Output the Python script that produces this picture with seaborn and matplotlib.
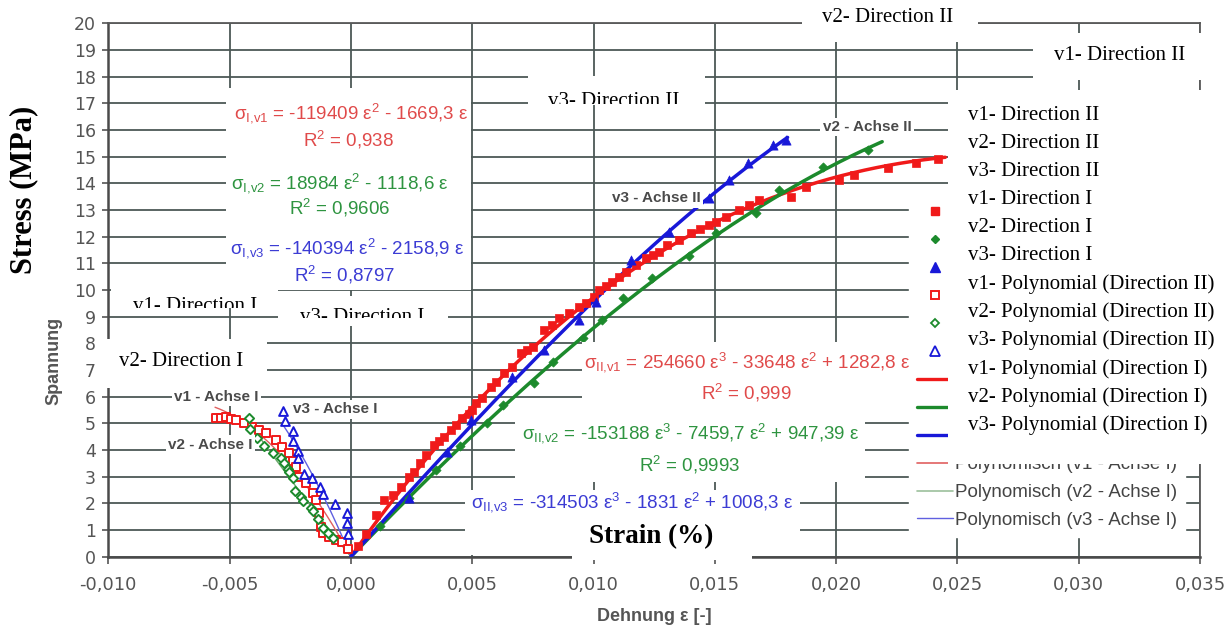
import numpy as np
import pandas as pd
import matplotlib
matplotlib.use("Agg")
import matplotlib.pyplot as plt
import seaborn as sns
from matplotlib.lines import Line2D
from matplotlib.patches import Rectangle
from matplotlib.ticker import FuncFormatter
from matplotlib.transforms import Bbox, TransformedBbox

# ---------------------------------------------------------------- data
# Direction II (Achse II) - measured points, positive strain
v1_II_eps = [0.00030, 0.00062, 0.00103, 0.00137, 0.00172, 0.00206, 0.00240, 0.00261, 0.00285,
             0.00309, 0.00343, 0.00365, 0.00385, 0.00412, 0.00433, 0.00460, 0.00485, 0.00501,
             0.00515, 0.00540, 0.00577, 0.00600, 0.00632, 0.00666, 0.00701, 0.00725, 0.00749,
             0.00797, 0.00830, 0.00859, 0.00900, 0.00941, 0.00969, 0.01003, 0.01024, 0.01050,
             0.01078, 0.01105, 0.01134, 0.01175, 0.01216, 0.01245, 0.01271, 0.01305, 0.01353,
             0.01401, 0.01440, 0.01477, 0.01505, 0.01546, 0.01600, 0.01642, 0.01683, 0.01814,
             0.01876, 0.02013, 0.02075, 0.02212, 0.02329, 0.02418]
v1_II_sig = [0.40, 0.85, 1.56, 2.13, 2.31, 2.62, 3.00, 3.19, 3.50,
             3.81, 4.19, 4.35, 4.50, 4.75, 4.94, 5.19, 5.35, 5.50,
             5.75, 5.95, 6.37, 6.55, 6.88, 7.12, 7.63, 7.75, 7.88,
             8.50, 8.70, 8.94, 9.13, 9.37, 9.50, 9.75, 10.00, 10.15,
             10.31, 10.50, 10.69, 10.94, 11.19, 11.30, 11.44, 11.69, 11.88,
             12.13, 12.30, 12.44, 12.56, 12.75, 13.00, 13.19, 13.37, 13.50,
             13.87, 14.12, 14.31, 14.56, 14.75, 14.90]

v2_II_eps = [0.00120, 0.00240, 0.00350, 0.00450, 0.00563, 0.00625, 0.00756, 0.00831, 0.00955,
             0.01037, 0.01120, 0.01243, 0.01394, 0.01505, 0.01670, 0.01766, 0.01944, 0.02130]
v2_II_sig = [1.15, 2.20, 3.25, 4.15, 5.00, 5.70, 6.50, 7.31, 8.19,
             8.88, 9.69, 10.44, 11.28, 12.13, 12.87, 13.75, 14.62, 15.25]

v3_II_eps = [0.00240, 0.00398, 0.00495, 0.00666, 0.00797, 0.00941, 0.01010, 0.01154, 0.01312,
             0.01477, 0.01560, 0.01635, 0.01738, 0.01793]
v3_II_sig = [2.19, 3.94, 5.13, 6.75, 7.75, 8.88, 9.56, 11.12, 12.19,
             13.44, 14.12, 14.75, 15.44, 15.62]

# Direction I (Achse I) - measured points, negative strain
v1_I_eps = [-0.00556, -0.00535, -0.00515, -0.00495, -0.00474, -0.00440, -0.00406, -0.00378,
            -0.00350, -0.00309, -0.00282, -0.00254, -0.00240, -0.00227, -0.00213, -0.00185,
            -0.00158, -0.00144, -0.00131, -0.00124, -0.00117, -0.00089, -0.00062, -0.00035,
            -0.00010]
v1_I_sig = [5.19, 5.20, 5.25, 5.18, 5.13, 5.00, 4.87, 4.75,
            4.63, 4.38, 4.12, 3.88, 3.60, 3.37, 3.00, 2.75,
            2.38, 2.13, 1.63, 1.12, 0.88, 0.75, 0.63, 0.56,
            0.30]

v2_I_eps = [-0.00422, -0.00415, -0.00385, -0.00360, -0.00320, -0.00290, -0.00275, -0.00260,
            -0.00254, -0.00240, -0.00230, -0.00206, -0.00196, -0.00165, -0.00155, -0.00135,
            -0.00114, -0.00095, -0.00073]
v2_I_sig = [5.20, 4.80, 4.45, 4.15, 3.90, 3.70, 3.50, 3.30,
            3.19, 2.96, 2.47, 2.25, 2.10, 1.81, 1.72, 1.40,
            1.09, 0.90, 0.70]

v3_I_eps = [-0.00280, -0.00270, -0.00240, -0.00240, -0.00220, -0.00220, -0.00195, -0.00160,
            -0.00127, -0.00113, -0.00064, -0.00016, -0.00016, -0.00010]
v3_I_sig = [5.47, 5.10, 4.70, 4.35, 3.97, 3.70, 3.10, 2.96,
            2.60, 2.36, 1.98, 1.65, 1.27, 0.85]

# polynomial trendlines: coefficients of eps^3, eps^2, eps (no intercept)
coef_I = {"v1": (0, -119409, -1669.3), "v2": (0, 18984, -1118.6), "v3": (0, -140394, -2158.9)}
coef_II = {"v1": (254660, -33648, 1282.8), "v2": (-153188, -7459.7, 947.39), "v3": (-314503, -1831, 1008.3)}
r2_I = {"v1": "0,938", "v2": "0,9606", "v3": "0,8797"}
r2_II = {"v1": "0,999", "v2": "0,9993"}
# strain range covered by each trendline
span_I = {"v1": (-0.0056, 0.0), "v2": (-0.0043, 0.0), "v3": (-0.0028, 0.0)}
span_II = {"v1": (0.0, 0.0245), "v2": (0.0, 0.0219), "v3": (0.0, 0.0180)}

x_ticks = [-0.010, -0.005, 0.000, 0.005, 0.010, 0.015, 0.020, 0.025, 0.030, 0.035]
y_ticks = list(range(0, 21))

legend_texts = ["v1- Direction II", "v2- Direction II", "v3- Direction II",
                "v1- Direction I", "v2- Direction I", "v3- Direction I",
                "v1- Polynomial (Direction II)", "v2- Polynomial (Direction II)",
                "v3- Polynomial (Direction II)", "v1- Polynomial (Direction I)",
                "v2- Polynomial (Direction I)", "v3- Polynomial (Direction I)"]
excel_legend_texts = ["Polynomisch (v1 - Achse I)", "Polynomisch (v2 - Achse I)",
                      "Polynomisch (v3 - Achse I)"]

# ---------------------------------------------------------------- style
sns.set_theme(style="white")
plt.rcParams["font.family"] = ["Liberation Sans", "DejaVu Sans"]
plt.rcParams["mathtext.fontset"] = "custom"
plt.rcParams["mathtext.rm"] = "Liberation Sans"
plt.rcParams["mathtext.it"] = "Liberation Sans:italic"

RED, GREEN, BLUE = "#f01a1a", "#1c8a2c", "#1818d8"
RED_T, GREEN_T, BLUE_T = "#e06060", "#6aa86a", "#6060e0"
EQ_RED, EQ_GREEN, EQ_BLUE = "#e04a4a", "#2e9440", "#3c3cd4"
GRID = "#4c5856"
TICK = "#555555"
SERIF = ["Liberation Serif", "DejaVu Serif"]

W, H = 1232, 631
fig = plt.figure(figsize=(W / 100, H / 100), dpi=100)


def fx(x):
    return x / W


def fy(y):
    return 1 - y / H


ax = fig.add_axes([fx(108.3), fy(556.7), (1200 - 108.3) / W, (556.7 - 23.3) / H])


def poly(coefs, e):
    c3, c2, c1 = coefs
    return c3 * e ** 3 + c2 * e ** 2 + c1 * e


def curve(coefs, span):
    e = np.linspace(span[0], span[1], 200)
    return pd.DataFrame({"eps": e, "sig": poly(coefs, e)})


# trendlines
for key, col in zip(["v1", "v2", "v3"], [RED_T, GREEN_T, BLUE_T]):
    d = curve(coef_I[key], span_I[key])
    sns.lineplot(data=d, x="eps", y="sig", color=col, linewidth=1.0, estimator=None,
                 sort=False, ax=ax, zorder=3)
for key, col in zip(["v1", "v2", "v3"], [RED, GREEN, BLUE]):
    d = curve(coef_II[key], span_II[key])
    sns.lineplot(data=d, x="eps", y="sig", color=col, linewidth=2.5, estimator=None,
                 sort=False, ax=ax, zorder=3)

# measured points
open_sets = [(v1_I_eps, v1_I_sig, "s", RED, 40), (v2_I_eps, v2_I_sig, "D", GREEN, 22),
             (v3_I_eps, v3_I_sig, "^", BLUE, 40)]
for e, s, m, col, size in open_sets:
    sns.scatterplot(x=e, y=s, marker=m, s=size, facecolor="white", edgecolor=col,
                    linewidth=1.4, ax=ax, zorder=4)
filled_sets = [(v1_II_eps, v1_II_sig, "s", RED, 36), (v2_II_eps, v2_II_sig, "D", GREEN, 22),
               (v3_II_eps, v3_II_sig, "^", BLUE, 44)]
for e, s, m, col, size in filled_sets:
    sns.scatterplot(x=e, y=s, marker=m, s=size, color=col, edgecolor=col,
                    linewidth=0.5, ax=ax, zorder=4)

# axes frame, grid and ticks
ax.set_xlim(x_ticks[0], x_ticks[-1])
ax.set_ylim(y_ticks[0], y_ticks[-1])
ax.set_xticks(x_ticks)
ax.set_yticks(y_ticks)
ax.xaxis.set_major_formatter(FuncFormatter(
    lambda v, p: f"{v:.3f}".replace(".", ",").replace("-0,000", "0,000")))
ax.yaxis.set_major_formatter(FuncFormatter(lambda v, p: f"{v:.0f}"))
ax.set_axisbelow(True)
ax.grid(True, color=GRID, linewidth=1.3)
for side in ["left", "bottom"]:
    ax.spines[side].set_color("#4a4a4a")
    ax.spines[side].set_linewidth(1.8)
for side in ["top", "right"]:
    ax.spines[side].set_color("#5a5a5a")
    ax.spines[side].set_linewidth(1.3)
ax.tick_params(axis="x", direction="out", length=5, width=1.2, color=TICK, pad=9,
               labelsize=13, labelcolor=TICK, bottom=True, labelfontfamily="DejaVu Sans")
ax.tick_params(axis="y", direction="out", length=4, width=1.2, color=TICK, pad=5,
               labelsize=12.5, labelcolor=TICK, left=True, labelfontfamily="DejaVu Sans")

ax.set_xlabel("Dehnung ε [-]", fontsize=13, fontweight="bold", color=TICK)
ax.set_ylabel("Spannung", fontsize=13, fontweight="bold", color=TICK)
ax.xaxis.set_label_coords(0.5006, -0.0962)
ax.yaxis.set_label_coords(-0.0424, 0.367)

# series labels inside the plot
label_kw = dict(fontsize=11, fontweight="bold", color="#4a4a4a", ha="center", va="center",
                zorder=6, bbox=dict(boxstyle="square,pad=0.15", fc="white", ec="none"))
ax.text(-0.00555, 5.99, "v1 - Achse I", **label_kw)
ax.text(-0.00580, 4.20, "v2 - Achse I", **label_kw)
ax.text(-0.00065, 5.52, "v3 - Achse I", **label_kw)
ax.text(0.01259, 13.44, "v3 - Achse II", **label_kw)
ax.text(0.02128, 16.11, "v2 - Achse II", **label_kw)

# legend of the measured series and trendlines
handles = [
    Line2D([], [], ls="none", marker="s", color=RED, markersize=6),
    Line2D([], [], ls="none", marker="D", color=GREEN, markersize=4.5),
    Line2D([], [], ls="none", marker="^", color=BLUE, markersize=6.5),
    Line2D([], [], ls="none", marker="s", mfc="white", mec=RED, mew=1.4, markersize=6),
    Line2D([], [], ls="none", marker="D", mfc="white", mec=GREEN, mew=1.3, markersize=4.5),
    Line2D([], [], ls="none", marker="^", mfc="white", mec=BLUE, mew=1.3, markersize=6.5),
    Line2D([], [], color=RED, lw=2.4),
    Line2D([], [], color=GREEN, lw=2.4),
    Line2D([], [], color=BLUE, lw=2.4),
    Line2D([], [], color=RED_T, lw=1.2),
    Line2D([], [], color="#9cc09c", lw=1.2),
    Line2D([], [], color=BLUE_T, lw=1.0),
]
labels = [""] * 9 + excel_legend_texts
leg = ax.legend(handles, labels, loc="upper left", bbox_to_anchor=(fx(909.5), fy(197)),
                bbox_transform=fig.transFigure, borderaxespad=0, borderpad=0.4,
                frameon=True, facecolor="white", edgecolor="white", framealpha=1,
                fontsize=13.5, handlelength=1.92, handletextpad=0.1, labelspacing=0.577)
for t in leg.get_texts():
    t.set_color("#444444")
leg.set_zorder(5)


# ---------------------------------------------------------------- overlay panels
def white_box(x0, y0, x1, y1, z=1.0):
    fig.add_artist(Rectangle((fx(x0), fy(y1)), (x1 - x0) / W, (y1 - y0) / H,
                             transform=fig.transFigure, facecolor="white",
                             edgecolor="none", zorder=z))


def clipped_text(s, x, y, clip, **kw):
    t = fig.text(fx(x), fy(y), s, **kw)
    x0, y0, x1, y1 = clip
    bb = Bbox.from_extents(fx(x0), fy(y1), fx(x1), fy(y0))
    t.set_clip_box(TransformedBbox(bb, fig.transFigure))
    t.set_clip_on(True)
    return t


def num(v):
    return f"{abs(v):g}".replace(".", ",")


def poly_label(sub, coefs):
    parts = []
    for c, p in zip(coefs, (3, 2, 1)):
        if c == 0:
            continue
        term = num(c) + " ε" + (f"$^{{\\mathregular{{{p}}}}}$" if p > 1 else "")
        if not parts:
            parts.append(("-" if c < 0 else "") + term)
        else:
            parts.append(("- " if c < 0 else "+ ") + term)
    return f"σ$_{{\\mathregular{{{sub}}}}}$ = " + " ".join(parts)


def r2_label(v):
    return "R$^{\\mathregular{2}}$ = " + v


# trendline equation panels
white_box(226, 88, 471, 290)
white_box(582, 342, 915, 418)
white_box(515, 418, 865, 482)
white_box(465, 490, 800, 555)

eq_kw = dict(fontsize=13.5, ha="center", va="center", zorder=3)
eq_I_pos = {"v1": ((351, 113), (349, 140)), "v2": ((340, 183), (340, 208)),
            "v3": ((347, 248), (345, 275))}
for key, col in zip(["v1", "v2", "v3"], [EQ_RED, EQ_GREEN, EQ_BLUE]):
    (ex, ey), (rx, ry) = eq_I_pos[key]
    fig.text(fx(ex), fy(ey), poly_label("I{,}" + key, coef_I[key]), color=col, **eq_kw)
    fig.text(fx(rx), fy(ry), r2_label(r2_I[key]), color=col, **eq_kw)

eq_II_pos = {"v1": ((747, 362), (746, 393)), "v2": ((691, 433), (690, 465)),
             "v3": ((632, 502), None)}
for key, col in zip(["v1", "v2", "v3"], [EQ_RED, EQ_GREEN, EQ_BLUE]):
    (ex, ey), r = eq_II_pos[key]
    fig.text(fx(ex), fy(ey), poly_label("II{,}" + key, coef_II[key]), color=col, **eq_kw)
    if r is not None:
        fig.text(fx(r[0]), fy(r[1]), r2_label(r2_II[key]), color=col, **eq_kw)

# direction captions
tkw = dict(fontsize=15, family=SERIF, color="black", zorder=3)
white_box(802, 0, 978, 42)
fig.text(fx(888), fy(17), "v2- Direction II", ha="center", va="center", **tkw)
white_box(1033, 33, 1232, 80)
fig.text(fx(1120), fy(55), "v1- Direction II", ha="center", va="center", **tkw)
white_box(528, 76, 705, 105)
clipped_text("v3- Direction II", 614, 106, (528, 76, 705, 104), ha="center", va="baseline", **tkw)
white_box(111, 286, 278, 308)
clipped_text("v1- Direction I", 195, 311, (111, 286, 278, 308), ha="center", va="baseline", **tkw)
white_box(278, 296, 448, 326)
clipped_text("v3- Direction I", 362, 322, (278, 296, 448, 318), ha="center", va="baseline", **tkw)
white_box(98, 339, 267, 388)
fig.text(fx(181), fy(362), "v2- Direction I", ha="center", va="center", **tkw)

# series key panel
white_box(948, 90, 1232, 464)
for i, s in enumerate(legend_texts):
    fig.text(fx(968), fy(115 + 28.2 * i), s, ha="left", va="center", **tkw)

# axis captions
fig.text(fx(24), fy(190), "Stress (MPa)", rotation=90, ha="center", va="center",
         fontsize=22, fontweight="bold", family=SERIF, color="black", zorder=3)
white_box(572, 513, 752, 560)
fig.text(fx(651), fy(537), "Strain (%)", ha="center", va="center",
         fontsize=19.5, fontweight="bold", family=SERIF, color="black", zorder=3)

fig.savefig("out.png", dpi=100, facecolor="white")
